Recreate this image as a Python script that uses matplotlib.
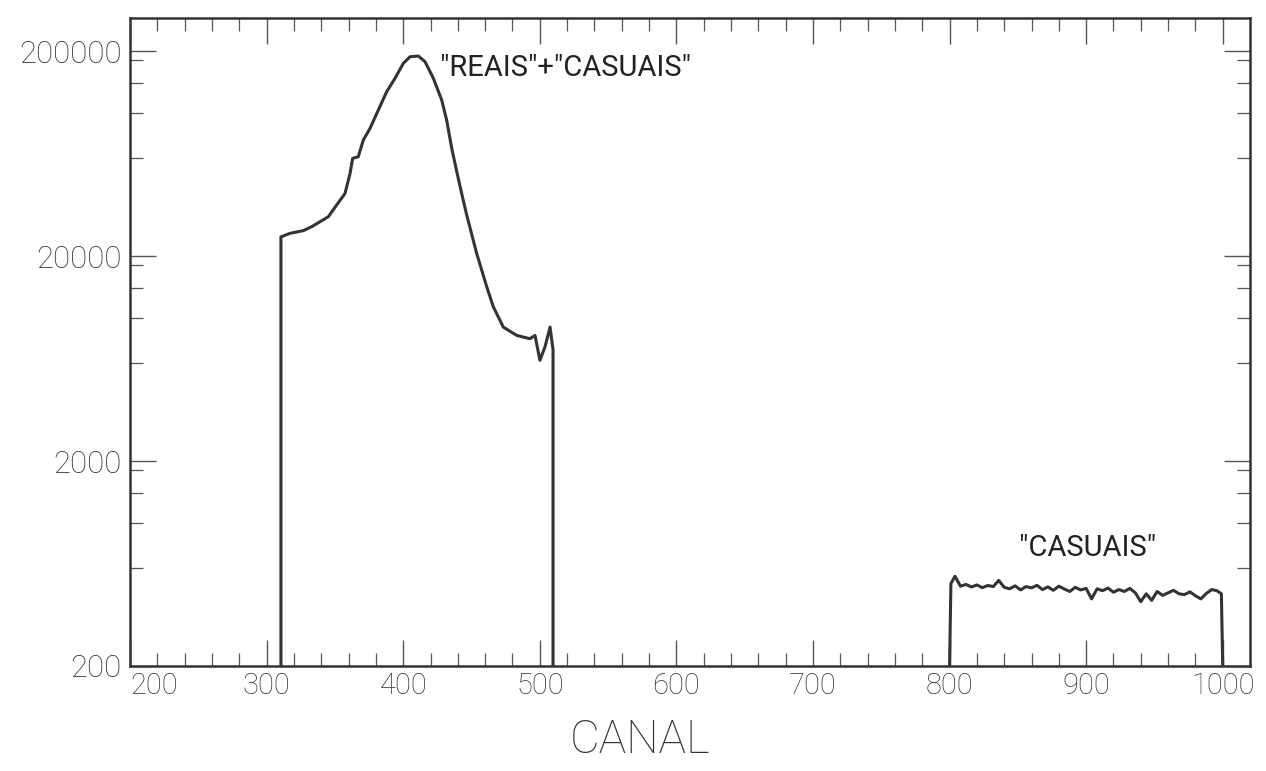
import matplotlib
matplotlib.use("Agg")
import matplotlib.pyplot as plt
from matplotlib.ticker import FixedLocator, FixedFormatter, NullFormatter

# janela "reais" + "casuais" (canal, contagens)
canal_pico = [310.5, 310.5, 317.1, 326.9, 333.0, 339.1, 345.2, 351.3, 357.4, 361.1,
              363.0, 367.1, 370.8, 375.7, 381.8, 387.9, 394.0, 400.1, 405.0, 411.1,
              416.0, 422.0, 428.2, 431.8, 435.5, 439.2, 442.8, 446.5, 453.8, 461.1,
              466.0, 473.3, 483.1, 492.8, 496.5, 500.1, 503.8, 507.5, 509.7, 509.7]
contagens_pico = [200, 24800, 25800, 26600, 27800, 29400, 31100, 35500, 40400, 50600,
                  59900, 61000, 73600, 83900, 103100, 126600, 147200, 174200, 187600, 189100,
                  177400, 147700, 115400, 92100, 67300, 51700, 40400, 31700, 20600, 14200,
                  11300, 9000, 8200, 7900, 8200, 6200, 7200, 9000, 7000, 200]

# janela so de "casuais"
canal_casuais = [800, 801, 804, 808, 812, 816, 820, 824, 828, 832, 836, 840, 844, 848,
                 852, 856, 860, 864, 868, 872, 876, 880, 884, 888, 892, 896, 900, 904,
                 908, 912, 916, 920, 924, 928, 932, 936, 940, 944, 948, 952, 956, 960,
                 964, 968, 972, 976, 980, 984, 988, 992, 996, 999, 1000]
contagens_casuais = [200, 505, 548, 490, 500, 486, 497, 482, 494, 488, 523, 484, 476, 492,
                     470, 488, 481, 495, 472, 486, 468, 490, 475, 462, 484, 470, 478, 425,
                     476, 466, 480, 458, 472, 462, 478, 455, 412, 450, 418, 462, 442, 455,
                     468, 450, 446, 460, 440, 425, 452, 472, 465, 450, 200]

x_ticks = [200, 300, 400, 500, 600, 700, 800, 900, 1000]
x_labels = ["200", "300", "400", "500", "600", "700", "800", "900", "1000"]
x_minor = [v for v in range(220, 1020, 20) if v % 100 != 0]
y_ticks = [200, 2000, 20000, 200000]
y_labels = ["200", "2000", "20000", "200000"]
y_minor = [600, 1000, 1400, 1800, 6000, 10000, 14000, 18000,
           60000, 100000, 140000, 180000]


def main():
    plt.rcParams["font.family"] = ["Roboto", "DejaVu Sans"]
    plt.rcParams["font.weight"] = "light"

    fig = plt.figure(figsize=(12.66, 7.71), dpi=100)
    ax = fig.add_axes([0.1027, 0.1362, 0.8847, 0.8405])

    line_col = "#333333"
    ax.plot(canal_pico, contagens_pico, color=line_col, linewidth=2.2)
    ax.plot(canal_casuais, contagens_casuais, color=line_col, linewidth=2.2)

    ax.set_yscale("log")
    ax.set_xlim(200, 1020)
    ax.set_ylim(200, 2.9e5)

    ax.xaxis.set_major_locator(FixedLocator(x_ticks))
    ax.xaxis.set_major_formatter(FixedFormatter(x_labels))
    ax.xaxis.set_minor_locator(FixedLocator(x_minor))
    ax.yaxis.set_major_locator(FixedLocator(y_ticks))
    ax.yaxis.set_major_formatter(FixedFormatter(y_labels))
    ax.yaxis.set_minor_locator(FixedLocator(y_minor))
    ax.yaxis.set_minor_formatter(NullFormatter())

    ax.tick_params(which="both", direction="in", top=True, right=True, color="#555555")
    ax.tick_params(which="major", length=19, width=1.0)
    ax.tick_params(which="minor", length=9.5, width=0.9)
    ax.tick_params(axis="x", which="major", labelsize=21, labelcolor="#333333", pad=4)
    ax.tick_params(axis="y", which="major", labelsize=22.5, labelcolor="#333333", pad=6)
    ax.get_xticklabels()[0].set_horizontalalignment("left")

    for s in ax.spines.values():
        s.set_color("#333333")
        s.set_linewidth(1.8)

    ax.text(427, 165000, '"REAIS"+"CASUAIS"', fontsize=21, color="#222222",
            fontweight="normal", ha="left", va="center")
    ax.text(851, 752, '"CASUAIS"', fontsize=21, color="#222222",
            fontweight="normal", ha="left", va="center")

    fig.text(0.5055, 0.040, "CANAL", fontsize=33, color="#333333",
             ha="center", va="center")

    fig.savefig("out.png", dpi=100)


if __name__ == "__main__":
    main()
